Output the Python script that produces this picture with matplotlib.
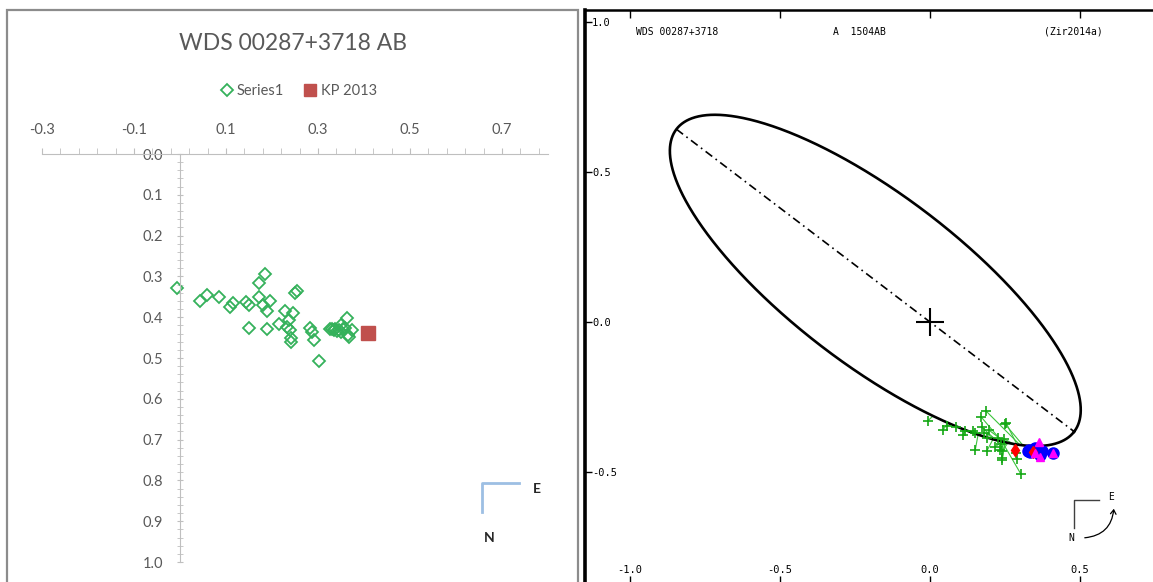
import numpy as np
import matplotlib
matplotlib.use("Agg")
import matplotlib.pyplot as plt
from matplotlib.lines import Line2D
from matplotlib.patches import Rectangle, FancyArrowPatch
from matplotlib.ticker import FixedLocator, FormatStrFormatter

plt.rcParams['font.family'] = ['Lato', 'DejaVu Sans']
plt.rcParams['axes.unicode_minus'] = False

W, H, DPI = 1153, 582, 100

# Relative position of B: east offset and north-down offset (arcsec)
sep_x = [-0.007, 0.043, 0.058, 0.085, 0.109, 0.116, 0.151, 0.143, 0.151, 0.171,
         0.185, 0.172, 0.181, 0.196, 0.190, 0.190, 0.216, 0.228, 0.245, 0.250,
         0.254, 0.238, 0.232, 0.239, 0.241, 0.241, 0.283, 0.286, 0.291, 0.303,
         0.326, 0.330, 0.334, 0.338, 0.342, 0.346, 0.350, 0.354, 0.351, 0.362,
         0.366, 0.368, 0.374, 0.358]
sep_y = [0.329, 0.360, 0.346, 0.350, 0.376, 0.364, 0.426, 0.362, 0.370, 0.317,
         0.295, 0.350, 0.369, 0.360, 0.385, 0.429, 0.417, 0.386, 0.389, 0.340,
         0.337, 0.407, 0.425, 0.431, 0.452, 0.460, 0.426, 0.437, 0.456, 0.507,
         0.430, 0.428, 0.432, 0.429, 0.434, 0.431, 0.436, 0.430, 0.419, 0.401,
         0.443, 0.449, 0.431, 0.427]
# Measurement technique: M micrometer, S speckle, H Hipparcos, A adaptive optics
method = ['M'] * 26 + ['H'] + ['M'] * 3 + \
         ['S', 'S', 'S', 'S', 'H', 'S', 'A', 'S', 'S', 'A', 'S', 'A', 'S', 'S']
# East offset of the ephemeris position for the visual measures
pred_x = [0.010, 0.060, 0.070, 0.100, 0.120, 0.130, 0.160, 0.170, 0.180, 0.240,
          0.300, 0.220, 0.230, 0.250, 0.230, 0.210, 0.240, 0.270, 0.280, 0.310,
          0.290, 0.260, 0.250, 0.260, 0.250, 0.250, 0.285, 0.290, 0.280, 0.240,
          None, None, None, None, 0.345, None, None, None, None, None,
          None, None, None, None]

kp2013_x = [0.409]
kp2013_y = [0.438]

# Apparent orbit: projected semi-major vector (to periastron), conjugate vector, eccentricity
orbit_a_vec = (0.663, -0.504)
orbit_b_vec = (0.1714, 0.2255)
orbit_ecc = 0.275

left_xticks = [-0.3, -0.1, 0.1, 0.3, 0.5, 0.7]
left_yticks = [0.0, 0.1, 0.2, 0.3, 0.4, 0.5, 0.6, 0.7, 0.8, 0.9, 1.0]
right_xticks = [-1.0, -0.5, 0.0, 0.5]
right_yticks = [1.0, 0.5, 0.0, -0.5]

GRAY_TXT = '#595959'
GRAY_AX = '#bfbfbf'
DIAMOND_GREEN = '#35b15b'

fig = plt.figure(figsize=(W / DPI, H / DPI), dpi=DPI)


def fp(x, y):
    """pixel position -> figure fraction"""
    return x / W, 1 - y / H


# ---------------- left panel: spreadsheet chart ----------------
fig.patches.append(Rectangle(fp(7, 600), 571 / W, 590 / H, transform=fig.transFigure,
                             fill=False, ec='#8c8c8c', lw=1.6))

x0, y0 = fp(42, 562)
ax1 = fig.add_axes([x0, y0, 506 / W, 408 / H])
ax1.set_xlim(-0.3, 0.8)
ax1.set_ylim(1.0, 0.0)
ax1.patch.set_alpha(0)
for s in ('bottom', 'right'):
    ax1.spines[s].set_visible(False)
ax1.spines['top'].set_color(GRAY_AX)
ax1.spines['left'].set_color(GRAY_AX)
ax1.spines['left'].set_position(('data', 0))
ax1.spines['left'].set_bounds(0.0, 1.0)

ax1.xaxis.tick_top()
ax1.xaxis.set_major_locator(FixedLocator(left_xticks))
ax1.xaxis.set_minor_locator(FixedLocator(np.round(np.arange(-0.3, 0.79, 0.04), 2)))
ax1.xaxis.set_major_formatter(FormatStrFormatter('%.1f'))
ax1.tick_params(axis='x', which='both', direction='out', length=4, color=GRAY_AX,
                labelsize=10.5, labelcolor=GRAY_TXT, pad=8)
ax1.yaxis.set_major_locator(FixedLocator(left_yticks))
ax1.yaxis.set_minor_locator(FixedLocator(np.round(np.arange(0, 1.001, 0.02), 2)))
ax1.yaxis.set_major_formatter(FormatStrFormatter('%.1f'))
ax1.tick_params(axis='y', which='both', direction='inout', length=4, color=GRAY_AX,
                labelsize=10.5, labelcolor=GRAY_TXT, pad=10)

ax1.plot(sep_x, sep_y, 'D', mfc='none', mec=DIAMOND_GREEN, ms=6.3, mew=1.3,
         clip_on=False, label='Series1')
ax1.plot(kp2013_x, kp2013_y, 's', color='#c0504d', ms=9.5, clip_on=False, label='KP 2013')

fig.text(*fp(293, 44), 'WDS 00287+3718 AB', ha='center', va='center',
         fontsize=16.5, color=GRAY_TXT)
leg = ax1.legend(loc='center', bbox_to_anchor=fp(298, 91), bbox_transform=fig.transFigure,
                 ncol=2, frameon=False, fontsize=10.5, handletextpad=0.2,
                 columnspacing=1.3, handlelength=1.0, labelcolor=GRAY_TXT, markerscale=0.9)

fig.add_artist(Line2D([519 / W, 482 / W, 482 / W], [fp(0, 483)[1], fp(0, 483)[1], fp(0, 512)[1]],
                      transform=fig.transFigure, color='#9dbfe3', lw=2))
fig.text(*fp(537, 489), 'E', ha='center', va='center', fontsize=10, fontweight='bold', color='#262626')
fig.text(*fp(489, 538), 'N', ha='center', va='center', fontsize=10, fontweight='bold', color='#262626')

# ---------------- right panel: orbit plot ----------------
PX_PER_UNIT = 300.0
ORIGIN_PX = (930, 322)
L, R, T, B = 585, 1160, 10, 584
ax2 = fig.add_axes([L / W, 1 - B / H, (R - L) / W, (B - T) / H])
ax2.set_xlim((L - ORIGIN_PX[0]) / PX_PER_UNIT, (R - ORIGIN_PX[0]) / PX_PER_UNIT)
ax2.set_ylim((ORIGIN_PX[1] - B) / PX_PER_UNIT, (ORIGIN_PX[1] - T) / PX_PER_UNIT)
ax2.patch.set_alpha(0)
ax2.spines['right'].set_visible(False)
ax2.spines['bottom'].set_visible(False)
ax2.spines['left'].set_linewidth(2.6)
ax2.spines['top'].set_linewidth(1.8)

MONO = 'DejaVu Sans Mono'
ax2.set_xticks(right_xticks)
ax2.set_xticklabels(['%.1f' % v for v in right_xticks], fontfamily=MONO, fontsize=7.5)
ax2.tick_params(axis='x', top=True, bottom=True, labeltop=False, labelbottom=True,
                direction='in', length=6, width=1, pad=-14)
ax2.set_yticks(right_yticks)
ax2.set_yticklabels(['%.1f' % v for v in right_yticks], fontfamily=MONO, fontsize=7.5)
ax2.tick_params(axis='y', left=True, right=False, direction='in', length=5, width=1, pad=-5)
for lab in ax2.get_yticklabels():
    lab.set_horizontalalignment('left')

# orbit ellipse
ax_vec = np.array(orbit_a_vec)
bx_vec = np.array(orbit_b_vec)
E = np.linspace(0, 2 * np.pi, 1441)
orb = np.outer(np.cos(E) - orbit_ecc, ax_vec) + np.outer(np.sin(E), bx_vec)
ax2.plot(orb[:, 0], orb[:, 1], color='black', lw=1.9, zorder=3)

# line of apsides
peri = ax_vec * (1 - orbit_ecc)
apo = -ax_vec * (1 + orbit_ecc)
ax2.plot([apo[0], peri[0]], [apo[1], peri[1]], color='black', lw=1.2,
         dashes=(5, 2.5, 1, 2.5), zorder=3)
ax2.plot([0], [0], '+', color='black', ms=20, mew=1.5, zorder=4)

# observations (north down -> flip sign)
obs_x = np.array(sep_x)
obs_y = -np.array(sep_y)
meth = np.array(method)

# O-C lines to the ephemeris positions on the lower arc of the orbit
Earc = np.linspace(-1.8, 0.2, 2001)
arc = np.outer(np.cos(Earc) - orbit_ecc, ax_vec) + np.outer(np.sin(Earc), bx_vec)
for ox, oy, m, px in zip(obs_x, obs_y, meth, pred_x):
    if px is None:
        continue
    k = np.argmin(np.abs(arc[:, 0] - px))
    col = '#3cc43c' if m == 'M' else '#ff2020'
    ax2.plot([ox, arc[k, 0]], [oy, arc[k, 1]], color=col, lw=0.8, zorder=2)

sel = meth == 'M'
ax2.plot(obs_x[sel], obs_y[sel], '+', color='#14a814', ms=7, mew=1.2, ls='none', zorder=5)
sel = meth == 'S'
ax2.plot(obs_x[sel], obs_y[sel], 'o', color='#0000ff', ms=8, ls='none', zorder=5)
ax2.plot(kp2013_x, [-v for v in kp2013_y], 'o', color='#0000ff', ms=8, ls='none', zorder=5)
sel = meth == 'H'
ax2.plot(obs_x[sel], obs_y[sel], 'd', color='#ff0000', ms=6.5, ls='none', zorder=6)
sel = meth == 'A'
ax2.plot(obs_x[sel], obs_y[sel], '^', color='#ff00ff', ms=6, ls='none', zorder=6)
ax2.plot(kp2013_x, [-v for v in kp2013_y], '^', color='#ff00ff', ms=6, ls='none', zorder=6)

# header line
fig.text(*fp(636, 32), 'WDS 00287+3718', ha='left', va='center', fontfamily=MONO, fontsize=7)
fig.text(*fp(833, 32), 'A  1504AB', ha='left', va='center', fontfamily=MONO, fontsize=7)
fig.text(*fp(1044, 32), '(Zir2014a)', ha='left', va='center', fontfamily=MONO, fontsize=7)

# compass
fig.add_artist(Line2D([1099 / W, 1074 / W, 1074 / W], [fp(0, 500)[1], fp(0, 500)[1], fp(0, 528)[1]],
                      transform=fig.transFigure, color='#404040', lw=1))
fig.text(*fp(1111, 497), 'E', ha='center', va='center', fontfamily=MONO, fontsize=7)
fig.text(*fp(1071, 538), 'N', ha='center', va='center', fontfamily=MONO, fontsize=7)
fig.add_artist(FancyArrowPatch(fp(1082, 538), fp(1114, 506), transform=fig.transFigure,
                               connectionstyle='arc3,rad=0.45', arrowstyle='->,head_length=3,head_width=2',
                               color='black', lw=0.9))

fig.savefig('out.png', dpi=DPI)
